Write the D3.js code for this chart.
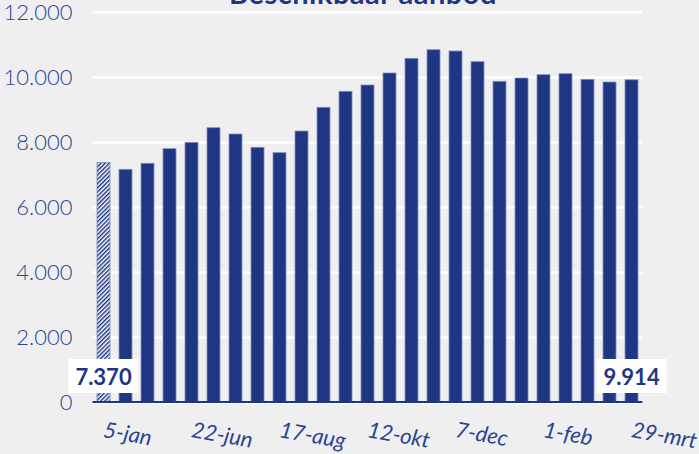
<!DOCTYPE html>
<html>
<head>
<meta charset="utf-8">
<script src="https://cdn.jsdelivr.net/npm/d3@7"></script>
<style>
    html, body { margin: 0; padding: 0; background: #efefef; }
    svg { display: block; }
</style>
</head>
<body>
<div id="chart"></div>
<script>
// Beschikbaar aanbod - two-weekly bars, first bar is last year's reference

const weeks = ['5-jan', '11-mei', '25-mei', '8-jun', '22-jun', '6-jul', '20-jul', '3-aug',
    '17-aug', '31-aug', '14-sep', '28-sep', '12-okt', '26-okt', '9-nov', '23-nov',
    '7-dec', '21-dec', '4-jan', '18-jan', '1-feb', '15-feb', '1-mrt', '15-mrt', '29-mrt'];
const aanbod = [7370, 7160, 7345, 7795, 7990, 8440, 8246, 7837, 7671, 8338, 9068, 9560,
    9754, 10123, 10575, 10840, 10800, 10471, 9868, 9969, 10071, 10102, 9929, 9846, 9914];
const tickWeeks = ['5-jan', '22-jun', '17-aug', '12-okt', '7-dec', '1-feb', '29-mrt'];
const yTicks = [0, 2000, 4000, 6000, 8000, 10000, 12000];
const labelWeeks = ['5-jan', '29-mrt'];
const title = 'Beschikbaar aanbod';

const width = 699;
const height = 454;
const margin = { top: 12, right: 56.5, bottom: 52, left: 92.5 };
const barColor = '#1e3684';
const textColor = '#2a4494';

const fmt = v => d3.format(',')(v).replace(/,/g, '.');

const svg = d3.select('#chart')
    .append('svg')
    .attr('width', width)
    .attr('height', height);

svg.append('rect')
    .attr('width', width)
    .attr('height', height)
    .attr('fill', '#efefef');

// hatch pattern for the reference bar
const pattern = svg.append('defs')
    .append('pattern')
    .attr('id', 'hatch')
    .attr('patternUnits', 'userSpaceOnUse')
    .attr('width', 3)
    .attr('height', 3)
    .attr('patternTransform', 'rotate(45)');
pattern.append('rect')
    .attr('width', 3).attr('height', 3)
    .attr('fill', '#ffffff');
pattern.append('line')
    .attr('x1', 0.75).attr('y1', 0)
    .attr('x2', 0.75).attr('y2', 3)
    .attr('stroke', barColor)
    .attr('stroke-width', 1.5);

const x = d3.scaleBand()
    .domain(weeks)
    .range([margin.left, width - margin.right])
    .paddingInner(0.41)
    .paddingOuter(0.205);

const y = d3.scaleLinear()
    .domain([0, 12000])
    .range([height - margin.bottom, margin.top]);

// gridlines + y labels
const yAxis = svg.append('g')
    .attr('transform', `translate(${margin.left},0)`)
    .call(d3.axisLeft(y)
        .tickValues(yTicks)
        .tickFormat(fmt)
        .tickSize(-(width - margin.left - margin.right))
        .tickPadding(20));
yAxis.select('.domain').remove();
yAxis.selectAll('.tick line')
    .attr('stroke', '#ffffff')
    .attr('stroke-width', 2.5);
yAxis.selectAll('.tick text')
    .attr('fill', textColor)
    .style('font-family', 'Lato, sans-serif')
    .style('font-weight', 300)
    .style('font-size', '22px');

// title (mostly cut off at the top, as in the source)
svg.append('text')
    .attr('x', 363)
    .attr('y', 4)
    .attr('text-anchor', 'middle')
    .attr('fill', barColor)
    .style('font-family', 'Lato, sans-serif')
    .style('font-weight', 700)
    .style('font-size', '29px')
    .style('letter-spacing', '0.5px')
    .text(title);

// bars
svg.append('g')
    .selectAll('rect')
    .data(weeks)
    .join('rect')
    .attr('x', d => x(d))
    .attr('y', (d, i) => y(aanbod[i]))
    .attr('width', x.bandwidth())
    .attr('height', (d, i) => y(0) - y(aanbod[i]))
    .attr('fill', (d, i) => i === 0 ? 'url(#hatch)' : barColor)
    .attr('stroke', '#7f8dc2')
    .attr('stroke-width', 0.8);

// baseline
svg.append('line')
    .attr('x1', margin.left)
    .attr('x2', width - margin.right)
    .attr('y1', y(0))
    .attr('y2', y(0))
    .attr('stroke', barColor)
    .attr('stroke-width', 2);

// x labels
const xAxis = svg.append('g')
    .attr('transform', `translate(0,${y(0)})`)
    .call(d3.axisBottom(x).tickValues(tickWeeks).tickSize(0));
xAxis.select('.domain').remove();
xAxis.selectAll('.tick text')
    .attr('x', 0)
    .attr('y', 0)
    .attr('dy', 0)
    .attr('text-anchor', 'start')
    .attr('transform', 'translate(-1,35) rotate(10)')
    .attr('fill', textColor)
    .style('font-family', 'Lato, sans-serif')
    .style('font-style', 'italic')
    .style('font-weight', 400)
    .style('font-size', '22px');

// value boxes for first and last bar
const labels = svg.append('g')
    .selectAll('g')
    .data(labelWeeks)
    .join('g')
    .attr('transform', d => `translate(${x(d) + x.bandwidth() / 2},${y(0) - 26})`);
labels.append('rect')
    .attr('x', -35)
    .attr('y', -17)
    .attr('width', 70)
    .attr('height', 34)
    .attr('fill', '#ffffff');
labels.append('text')
    .attr('text-anchor', 'middle')
    .attr('y', 9)
    .attr('fill', barColor)
    .style('font-family', 'Lato, sans-serif')
    .style('font-weight', 700)
    .style('font-size', '22px')
    .text(d => fmt(aanbod[weeks.indexOf(d)]));
</script>
</body>
</html>
